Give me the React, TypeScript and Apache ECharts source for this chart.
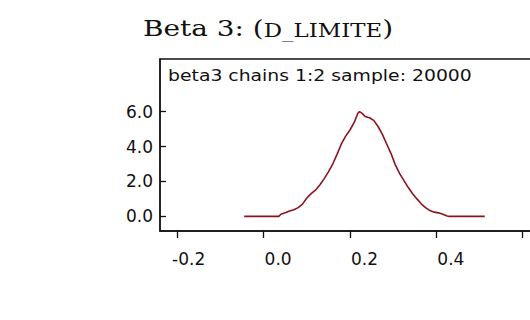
import React, { useEffect, useRef } from "react";
import * as echarts from "echarts";

const titleMain = "Beta 3: (";
const titleCaps = "D_LIMITE";
const titleEnd = ")";
const boxLabel = "beta3 chains 1:2 sample: 20000";

const xTicks = [-0.2, 0.0, 0.2, 0.4, 0.6];
const xTickLabels = [-0.2, 0.0, 0.2, 0.4];
const yTicks = [0.0, 2.0, 4.0, 6.0];

const betaValues = [
  -0.045, 0.0, 0.035, 0.04, 0.05, 0.06, 0.07, 0.08, 0.09, 0.1, 0.11, 0.12, 0.13,
  0.14, 0.15, 0.16, 0.17, 0.18, 0.19, 0.2, 0.21, 0.218, 0.222, 0.228, 0.235,
  0.245, 0.255, 0.265, 0.275, 0.285, 0.295, 0.305, 0.315, 0.325, 0.335, 0.345,
  0.355, 0.365, 0.375, 0.385, 0.395, 0.405, 0.415, 0.425, 0.43, 0.512,
];
const densityValues = [
  0, 0, 0.0, 0.12, 0.2, 0.3, 0.38, 0.5, 0.7, 1.05, 1.3, 1.5, 1.8, 2.15, 2.55,
  3.0, 3.55, 4.15, 4.6, 4.95, 5.4, 5.9, 6.0, 5.9, 5.72, 5.65, 5.5, 5.15, 4.7,
  4.15, 3.6, 2.95, 2.45, 2.05, 1.65, 1.3, 1.0, 0.72, 0.5, 0.33, 0.24, 0.2, 0.12,
  0.02, 0.0, 0.0,
];

export default function App() {
  const ref = useRef<HTMLDivElement>(null);
  useEffect(() => {
    if (!ref.current) return;
    const chart = echarts.init(ref.current, null, { renderer: "svg" });
    const data = betaValues.map((b, i) => [b, densityValues[i]]);
    chart.setOption({
      animation: false,
      backgroundColor: "#ffffff",
      grid: {
        left: 160,
        top: 59,
        width: 380,
        height: 172,
        show: true,
        borderColor: "#111111",
        borderWidth: 1.3,
        backgroundColor: "transparent",
        containLabel: false,
        outerBoundsMode: "none",
      },
      xAxis: {
        type: "value",
        min: -0.24,
        max: 0.64,
        splitLine: { show: false },
        axisLine: { show: true, onZero: false, lineStyle: { color: "#111111", width: 1.5 } },
        axisTick: {
          show: true,
          length: 7,
          customValues: xTicks,
          lineStyle: { color: "#111111", width: 1.3 },
        },
        axisLabel: {
          customValues: xTickLabels,
          formatter: (v: number) => v.toFixed(1),
          fontFamily: "DejaVu Sans",
          fontSize: 17,
          color: "#111111",
          margin: 19,
          align: "right",
          padding: [0, -28, 0, 0],
        },
      },
      yAxis: {
        type: "value",
        min: -0.84,
        max: 9.02,
        splitLine: { show: false },
        axisLine: { show: true, onZero: false, lineStyle: { color: "#111111", width: 1.5 } },
        axisTick: {
          show: true,
          inside: true,
          length: 6,
          customValues: yTicks,
          lineStyle: { color: "#111111", width: 1.3 },
        },
        axisLabel: {
          customValues: yTicks,
          formatter: (v: number) => v.toFixed(1),
          fontFamily: "DejaVu Sans",
          fontSize: 17,
          color: "#111111",
          margin: 7,
        },
      },
      series: [
        {
          type: "line",
          data,
          showSymbol: false,
          symbol: "none",
          lineStyle: { color: "#8c1420", width: 1.6 },
        },
      ],
      graphic: [
        {
          type: "text",
          x: 143,
          y: 16,
          scaleX: 1.27,
          style: {
            x: 0,
            y: 0,
            text: "{a|" + titleMain + "}{b|" + titleCaps + "}{a|" + titleEnd + "}",
            verticalAlign: "top",
            rich: {
              a: {
                fontFamily: "DejaVu Serif",
                fontSize: 22,
                lineHeight: 24,
                verticalAlign: "bottom",
                fill: "#111111",
              },
              b: {
                fontFamily: "DejaVu Serif",
                fontSize: 18,
                lineHeight: 20,
                verticalAlign: "bottom",
                fill: "#111111",
              },
            },
          },
        },
        {
          type: "text",
          x: 168,
          y: 67,
          scaleX: 1.14,
          style: {
            x: 0,
            y: 0,
            text: boxLabel,
            font: "16.5px 'DejaVu Sans'",
            fill: "#111111",
            verticalAlign: "top",
          },
        },
      ],
    });
    return () => chart.dispose();
  }, []);
  return (
    <div
      ref={ref}
      style={{ position: "fixed", left: 0, top: 0, width: 530, height: 320 }}
    />
  );
}
